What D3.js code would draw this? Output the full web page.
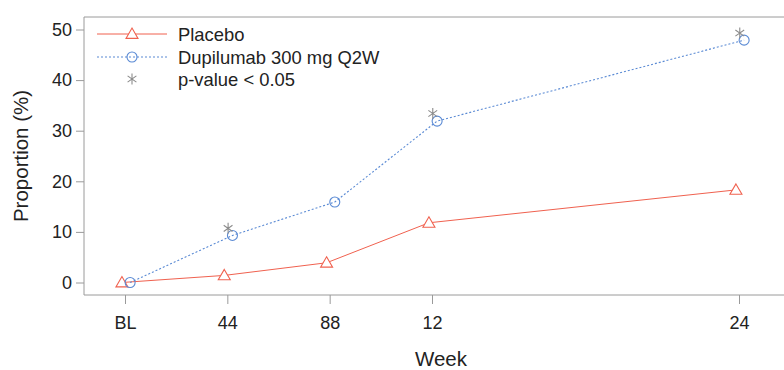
<!DOCTYPE html>
<html>
<head>
<meta charset="utf-8">
<script src="https://cdn.jsdelivr.net/npm/d3@7"></script>
<style>
  body { margin: 0; background: #fff; }
  svg { display: block; font-family: "Liberation Sans", Arial, sans-serif; }
</style>
</head>
<body>
<div id="chart"></div>
<script>
const width = 784;
const height = 370;

// data
const weeks = [0, 4, 8, 12, 24];
const weekLabels = ['BL', '44', '88', '12', '24'];
const placebo = [0, 1.4, 3.9, 11.8, 18.3];
const dupilumab = [0, 9.3, 15.9, 31.9, 47.9];
const sigWeeks = [4, 12, 24];
const sigValues = [10.7, 33.4, 49.3];
const yTicks = [0, 10, 20, 30, 40, 50];

const margin = { top: 17, right: 0, bottom: 75, left: 84 };

const red = '#f0614f';
const blue = '#5a8ad4';
const grey = '#8c8c8c';

const svg = d3.select('#chart')
  .append('svg')
  .attr('width', width)
  .attr('height', height);

const xScale = d3.scaleLinear()
  .domain([0, 24])
  .range([125, 739]);

const yScale = d3.scaleLinear()
  .domain([0, 50])
  .range([282.5, 29.5]);

const plotBottom = height - margin.bottom; // 295

// box (no right side visible)
svg.append('path')
  .attr('d', `M${width},${margin.top}H${margin.left}V${plotBottom}H${width}`)
  .attr('fill', 'none')
  .attr('stroke', '#9a9a9a')
  .attr('stroke-width', 1);

// y axis
const yAxis = svg.append('g')
  .attr('transform', `translate(${margin.left},0)`)
  .call(d3.axisLeft(yScale).tickValues(yTicks).tickSize(8).tickPadding(4));
yAxis.select('.domain').remove();
yAxis.selectAll('line').attr('stroke', '#9a9a9a');
yAxis.selectAll('text')
  .attr('font-size', 18)
  .attr('fill', '#222')
  .attr('font-family', '"Liberation Sans", Arial, sans-serif');

// x axis
const xAxis = svg.append('g')
  .attr('transform', `translate(0,${plotBottom})`)
  .call(d3.axisBottom(xScale).tickValues(weeks)
    .tickFormat((d, i) => weekLabels[i]).tickSize(9).tickPadding(12));
xAxis.select('.domain').remove();
xAxis.selectAll('line').attr('stroke', '#9a9a9a');
xAxis.selectAll('text')
  .attr('font-size', 18)
  .attr('fill', '#222')
  .attr('font-family', '"Liberation Sans", Arial, sans-serif');

// axis titles
svg.append('text')
  .attr('x', 441)
  .attr('y', 366)
  .attr('text-anchor', 'middle')
  .attr('font-size', 20.5)
  .attr('fill', '#222')
  .text('Week');

svg.append('text')
  .attr('transform', 'translate(28,156) rotate(-90)')
  .attr('text-anchor', 'middle')
  .attr('font-size', 20.5)
  .attr('fill', '#222')
  .text('Proportion (%)');

// small dodge so markers don't sit on top of each other
const dodgeP = -0.12;
const dodgeD = 0.2;
const dodgeS = 0.03;

const line = d3.line()
  .x(d => xScale(d[0]))
  .y(d => yScale(d[1]));

const pData = weeks.map((w, i) => [w + dodgeP, placebo[i]]);
const dData = weeks.map((w, i) => [w + dodgeD, dupilumab[i]]);
const sData = sigWeeks.map((w, i) => [w + dodgeS, sigValues[i]]);

svg.append('path')
  .datum(pData)
  .attr('d', line)
  .attr('fill', 'none')
  .attr('stroke', red)
  .attr('stroke-width', 1);

svg.append('path')
  .datum(dData)
  .attr('d', line)
  .attr('fill', 'none')
  .attr('stroke', blue)
  .attr('stroke-width', 1.1)
  .attr('stroke-dasharray', '2,2');

function triangle(g, cx, cy, s) {
  g.append('path')
    .attr('d', `M${cx},${cy - s * 0.75}L${cx + s * 0.75},${cy + s * 0.55}L${cx - s * 0.75},${cy + s * 0.55}Z`)
    .attr('fill', '#fff')
    .attr('stroke', red)
    .attr('stroke-width', 1.1);
}

function circle(g, cx, cy) {
  g.append('circle')
    .attr('cx', cx).attr('cy', cy).attr('r', 5)
    .attr('fill', 'none')
    .attr('stroke', blue)
    .attr('stroke-width', 1.1);
}

function star(g, cx, cy) {
  const r = 5.5;
  const k = r * 0.8;
  g.append('path')
    .attr('d', `M${cx},${cy - r}V${cy + r}M${cx - k},${cy - k * 0.7}L${cx + k},${cy + k * 0.7}M${cx - k},${cy + k * 0.7}L${cx + k},${cy - k * 0.7}`)
    .attr('stroke', grey)
    .attr('stroke-width', 1.1)
    .attr('fill', 'none');
}

const markers = svg.append('g');
pData.forEach(d => triangle(markers, xScale(d[0]), yScale(d[1]), 8));
dData.forEach(d => circle(markers, xScale(d[0]), yScale(d[1])));
sData.forEach(d => star(markers, xScale(d[0]), yScale(d[1])));

// legend
const legend = svg.append('g');
const legendItems = [
  { label: 'Placebo', y: 34, kind: 'p' },
  { label: 'Dupilumab 300 mg Q2W', y: 57, kind: 'd' },
  { label: 'p-value < 0.05', y: 79, kind: 's' },
];
legendItems.forEach(item => {
  if (item.kind === 'p') {
    legend.append('line')
      .attr('x1', 97).attr('x2', 167).attr('y1', item.y).attr('y2', item.y)
      .attr('stroke', red).attr('stroke-width', 1);
    triangle(legend, 132, item.y, 8);
  } else if (item.kind === 'd') {
    legend.append('line')
      .attr('x1', 97).attr('x2', 167).attr('y1', item.y).attr('y2', item.y)
      .attr('stroke', blue).attr('stroke-width', 1.1).attr('stroke-dasharray', '2,2');
    circle(legend, 132, item.y);
  } else {
    star(legend, 132, item.y);
  }
  legend.append('text')
    .attr('x', 178)
    .attr('y', item.y + 6.5)
    .attr('font-size', 18.4)
    .attr('fill', '#222')
    .text(item.label);
});
</script>
</body>
</html>
